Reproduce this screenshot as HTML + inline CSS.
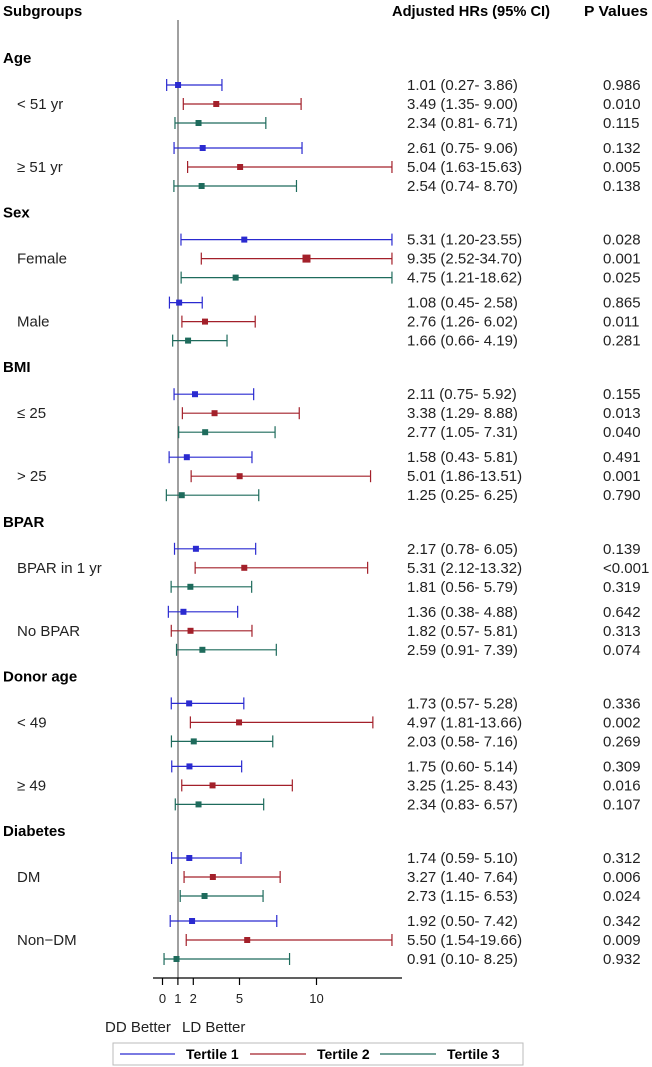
<!DOCTYPE html>
<html><head><meta charset="utf-8">
<style>
html,body{margin:0;padding:0;background:#fff;}
svg{display:block;font-family:"Liberation Sans",Arial,sans-serif;}
</style></head>
<body>
<svg id="chart" width="652" height="1067" viewBox="0 0 652 1067">
<text x="3" y="16" font-size="15" font-weight="bold">Subgroups</text>
<text x="392" y="16" font-size="15" font-weight="bold" textLength="158" lengthAdjust="spacingAndGlyphs">Adjusted HRs (95% CI)</text>
<text x="584" y="16" font-size="15" font-weight="bold" textLength="64" lengthAdjust="spacingAndGlyphs">P Values</text>
<line x1="178" y1="20" x2="178" y2="978" stroke="#808080" stroke-width="1.5"/>
<g id="marks"></g>
<line x1="153" y1="978" x2="402" y2="978" stroke="#000" stroke-width="1.2"/>
<g id="ticks"></g>
<text x="105" y="1032" font-size="15" fill="#222">DD Better</text>
<text x="182" y="1032" font-size="15" fill="#222">LD Better</text>
<g>
<rect x="113" y="1043" width="410" height="22" fill="#fff" stroke="#bbb"/>
<line x1="120" y1="1054" x2="175" y2="1054" stroke="#2a2ad0" stroke-width="1.2"/>
<text x="186" y="1059" font-size="14" font-weight="bold">Tertile 1</text>
<line x1="250" y1="1054" x2="306" y2="1054" stroke="#a3202a" stroke-width="1.2"/>
<text x="317" y="1059" font-size="14" font-weight="bold">Tertile 2</text>
<line x1="380" y1="1054" x2="436" y2="1054" stroke="#1e6b5c" stroke-width="1.2"/>
<text x="447" y="1059" font-size="14" font-weight="bold">Tertile 3</text>
</g>
</svg>
<script>
const groups = ["Age","Sex","BMI","BPAR","Donor age","Diabetes"];
const subgroups = ["< 51 yr","\u2265 51 yr","Female","Male","\u2264 25","> 25","BPAR in 1 yr","No BPAR","< 49","\u2265 49","DM","Non\u2212DM"];
const hr    = [1.01,3.49,2.34, 2.61,5.04,2.54, 5.31,9.35,4.75, 1.08,2.76,1.66, 2.11,3.38,2.77, 1.58,5.01,1.25, 2.17,5.31,1.81, 1.36,1.82,2.59, 1.73,4.97,2.03, 1.75,3.25,2.34, 1.74,3.27,2.73, 1.92,5.50,0.91];
const lower = [0.27,1.35,0.81, 0.75,1.63,0.74, 1.20,2.52,1.21, 0.45,1.26,0.66, 0.75,1.29,1.05, 0.43,1.86,0.25, 0.78,2.12,0.56, 0.38,0.57,0.91, 0.57,1.81,0.58, 0.60,1.25,0.83, 0.59,1.40,1.15, 0.50,1.54,0.10];
const upper = [3.86,9.00,6.71, 9.06,15.63,8.70, 23.55,34.70,18.62, 2.58,6.02,4.19, 5.92,8.88,7.31, 5.81,13.51,6.25, 6.05,13.32,5.79, 4.88,5.81,7.39, 5.28,13.66,7.16, 5.14,8.43,6.57, 5.10,7.64,6.53, 7.42,19.66,8.25];
const pvals = ["0.986","0.010","0.115","0.132","0.005","0.138","0.028","0.001","0.025","0.865","0.011","0.281","0.155","0.013","0.040","0.491","0.001","0.790","0.139","<0.001","0.319","0.642","0.313","0.074","0.336","0.002","0.269","0.309","0.016","0.107","0.312","0.006","0.024","0.342","0.009","0.932"];
const tickVals = [0,1,2,5,10];
const colors = ["#2a2ad0","#a3202a","#1e6b5c"];
const xMax = 14.9;
const NS="http://www.w3.org/2000/svg";
const svg=document.getElementById('chart');
const marks=document.getElementById('marks');
const ticks=document.getElementById('ticks');
function xs(v){return 162.5+15.4*Math.min(v,xMax);}
function gy(g){return 58+g*154.6;}
function ry(i){const g=Math.floor(i/6),s=Math.floor(i/3)%2,t=i%3;return gy(g)+27+s*63+t*19;}
function mk(tag,attrs,parent){const e=document.createElementNS(NS,tag);for(const k in attrs)e.setAttribute(k,attrs[k]);(parent||svg).appendChild(e);return e;}
function fmt(v){const s=v.toFixed(2);return s.length<5?" "+s:s;}
groups.forEach((g,i)=>{
  const t=mk('text',{x:3,y:gy(i)+5,'font-size':15,'font-weight':'bold'});
  t.textContent=g;
  
  
});
subgroups.forEach((s,i)=>{
  const t=mk('text',{x:17,y:ry(i*3+1)+5,'font-size':15,fill:'#222'});
  t.textContent=s;
  
  
});
hr.forEach((h,i)=>{
  const y=ry(i),c=colors[i%3];
  const g=mk('g',{},marks);
  
  
  const x1=xs(lower[i]),x2=xs(upper[i]);
  mk('line',{x1:x1,y1:y,x2:x2,y2:y,stroke:c,'stroke-width':1.2},g);
  mk('line',{x1:x1,y1:y-6,x2:x1,y2:y+6,stroke:c,'stroke-width':1.2},g);
  mk('line',{x1:x2,y1:y-6,x2:x2,y2:y+6,stroke:c,'stroke-width':1.2},g);
  const sz=h>8?8:6;
  const r=mk('rect',{x:xs(h)-sz/2,y:y-sz/2,width:sz,height:sz,fill:c},g);
  
  
  const t=mk('text',{x:407,y:y+5,'font-size':15,fill:'#222'});
  t.textContent=h.toFixed(2)+" ("+lower[i].toFixed(2)+"-"+fmt(upper[i])+")";
  t.setAttribute('style','white-space:pre');
  
  
  const p=mk('text',{x:603,y:y+5,'font-size':15,fill:'#222'});
  p.textContent=pvals[i];
  
  
});
tickVals.forEach(v=>{
  const x=xs(v);
  const l=mk('line',{x1:x,y1:978,x2:x,y2:985,stroke:'#000','stroke-width':1.2},ticks);
  
  
  const t=mk('text',{x:x,y:1003,'font-size':13,'text-anchor':'middle',fill:'#222'},ticks);
  t.textContent=String(v);
  
  
});
</script>
</body></html>
